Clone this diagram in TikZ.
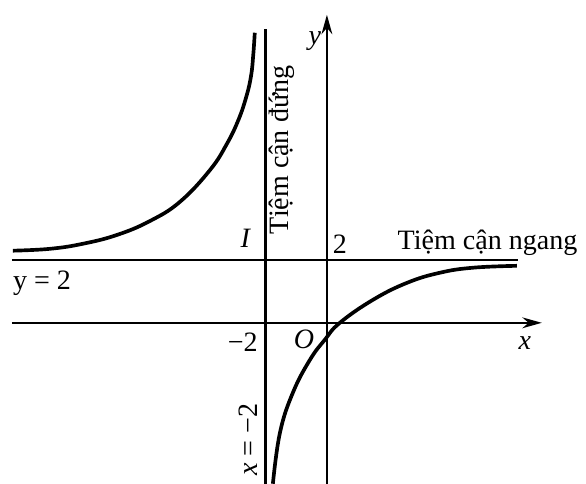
\documentclass[tikz,border=0pt]{standalone}
\usepackage{fontspec}
\setmainfont{Liberation Serif}
\usetikzlibrary{positioning,arrows.meta}

\begin{document}
\begin{tikzpicture}[
    x=0.5cm, y=0.513cm,
    axis/.style={line width=1.1pt, -{Stealth[length=9pt, width=5pt]}},
    asym/.style={line width=1.1pt},
    branch/.style={line width=1.7pt, smooth, tension=0.7},
    lbl/.style={font=\fontsize{13}{15}\selectfont, inner sep=1pt}
  ]
  \useasboundingbox (-10.65,-5.11) rectangle (8.44,10.25);

  % axes and asymptotes
  \coordinate (O) at (0,0);
  \coordinate (I) at (-2,2);
  \coordinate (xl) at (-10.26,0);
  \coordinate (xr) at (7,0);
  \coordinate (yb) at (0,-5.11);
  \coordinate (yt) at (0,9.78);
  \coordinate (vb) at (-2,-5.11);
  \coordinate (vt) at (-2,9.33);
  \coordinate (hl) at (-10.26,2);
  \coordinate (hr) at (6.22,2);
  \draw[axis] (xl) -- (xr);
  \draw[axis] (yb) -- (yt);
  \draw[asym] (vb) -- (vt);
  \draw[asym] (hl) -- (hr);

  % the two branches
  \draw[branch] plot coordinates {(-10.23,2.29) (-9.02,2.35) (-7.95,2.51) (-6.84,2.79)
    (-5.77,3.23) (-4.79,3.84) (-3.81,4.85) (-3.26,5.68) (-2.88,6.45) (-2.62,7.20)
    (-2.47,7.85) (-2.40,8.50) (-2.35,9.21)};
  \draw[branch] plot coordinates {(-1.76,-5.11) (-1.53,-3.49) (-1.11,-2.22) (-0.55,-1.17)
    (-0.07,-0.54) (0.42,0) (1.50,0.73) (2.61,1.27) (3.68,1.59) (4.76,1.75) (6.19,1.81)};

  % labels
  \node[lbl] (ylbl) at (-0.39,8.95) {\textit{y}};
  \node[lbl] (xlbl) at (6.45,-0.63) {\textit{x}};
  \node[lbl] (olbl) at (-0.75,-0.54) {\textit{O}};
  \node[lbl] (ilbl) at (-2.64,2.67) {\textit{I}};
  \node[lbl] (mtwo) at (-2.74,-0.63) {−2};
  \node[lbl] (two) at (0.42,2.48) {2};
  \node[lbl] (yeq) at (-9.28,1.27) {y = 2};
  \node[lbl, rotate=90] (xeq) at (-2.57,-3.71) {\textit{x} = −2};
  \node[lbl, rotate=90] (tcd) at (-1.47,5.49) {Tiệm cận đứng};
  \node[lbl, anchor=west] (tcn) at (2.22,2.55) {Tiệm cận ngang};
\end{tikzpicture}
\end{document}
